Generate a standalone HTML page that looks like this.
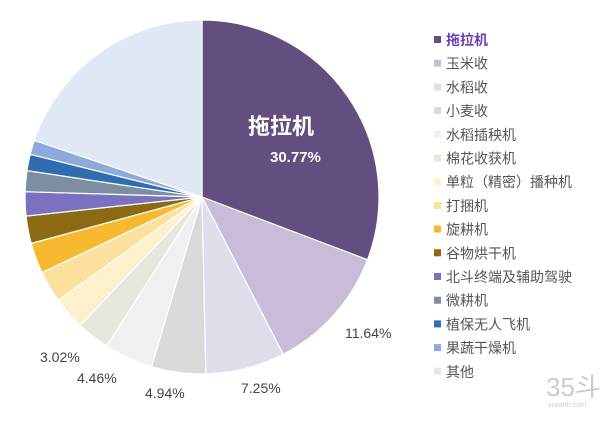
<!DOCTYPE html>
<html><head><meta charset="utf-8"><style>
body{margin:0;background:#fff;width:600px;height:417px;overflow:hidden;font-family:"Liberation Sans","Noto Sans CJK SC",sans-serif}
</style></head><body>
<svg id="s" width="600" height="417" xmlns="http://www.w3.org/2000/svg" font-family="Liberation Sans, Noto Sans CJK SC, sans-serif"></svg>
<script>
var d=[["拖拉机",30.77,"#634f7f"],["玉米收",11.64,"#c9bcd9"],["水稻收",7.25,"#e1dcea"],["小麦收",4.94,"#d9d9d9"],["水稻插秧机",4.46,"#f0f0f0"],["棉花收获机",3.02,"#e8e7dd"],["单粒（精密）播种机",3.0,"#fdf0cc"],["打捆机",2.9,"#fbe19d"],["旋耕机",2.8,"#f7b92f"],["谷物烘干机",2.5,"#8c6a13"],["北斗终端及辅助驾驶",2.2,"#7a72c0"],["微耕机",1.9,"#7d8ea3"],["植保无人飞机",1.5,"#2e6db0"],["果蔬干燥机",1.3,"#8eaadb"],["其他",19.82,"#dfe8f4"]];
var cx=202,cy=197,r=177,a=0,h="";
d.forEach(function(e,i){var a2=a+e[1]/100*2*Math.PI;
var x1=cx+r*Math.sin(a),y1=cy-r*Math.cos(a),x2=cx+r*Math.sin(a2),y2=cy-r*Math.cos(a2);
h+='<path d="M'+cx+','+cy+'L'+x1+','+y1+'A'+r+','+r+' 0 '+(a2-a>Math.PI?1:0)+' 1 '+x2+','+y2+'Z" fill="'+e[2]+'" stroke="#fff" stroke-width="1.2"/>';
a=a2;
var y=40+i*23.7;
h+='<rect x="434" y="'+(y-4)+'" width="7" height="7" fill="'+e[2]+'"/>';
h+='<text x="446" y="'+(y+5)+'" font-size="14" fill="'+(i==0?'#6a3fb0':'#555')+'"'+(i==0?' font-weight="bold"':'')+'>'+e[0]+'</text>';
});
h+='<text x="248" y="134" font-size="22" font-weight="bold" fill="#fff">拖拉机</text>';
h+='<text x="270" y="162" font-size="15" font-weight="bold" fill="#fff">30.77%</text>';
[["11.64%",345,338],["7.25%",241,393],["4.94%",145,398],["4.46%",77,383],["3.02%",40,362]].forEach(function(t){h+='<text x="'+t[1]+'" y="'+t[2]+'" font-size="14" fill="#444">'+t[0]+'</text>';});
h+='<text x="546" y="396" font-size="26" fill="#ccc">35斗</text><text x="548" y="407" font-size="7" fill="#ccc">vcearth.com</text>';
document.getElementById('s').innerHTML=h;
</script>
</body></html>
